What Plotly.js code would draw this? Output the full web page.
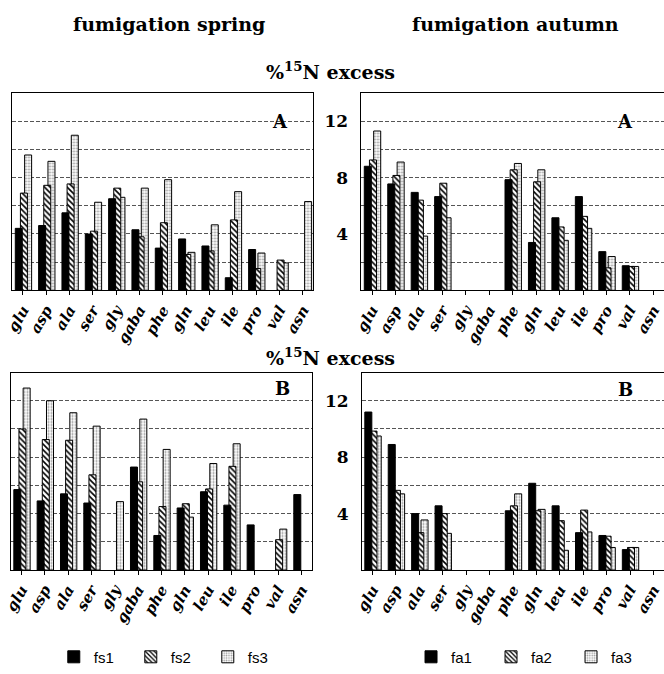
<!DOCTYPE html>
<html>
<head>
<meta charset="utf-8">
<script src="https://cdn.plot.ly/plotly-3.0.1.min.js"></script>
<style>html,body{margin:0;padding:0;background:#fff;}#chart{width:664px;height:674px;}</style>
</head>
<body>
<div id="chart"></div>
<script>
// Categories (amino acids)
const categories = ['glu','asp','ala','ser','gly','gaba','phe','gln','leu','ile','pro','val','asn'];

// fumigation spring, panel A
const fsA1 = [4.4, 4.6, 5.5, 4.0, 6.5, 4.3, 3.0, 3.65, 3.15, 0.9, 2.9, null, null];
const fsA2 = [6.9, 7.45, 7.55, 4.2, 7.25, 3.8, 4.8, 2.55, 2.8, 5.0, 1.55, 2.15, null];
const fsA3 = [9.6, 9.15, 11.0, 6.25, 6.6, 7.25, 7.85, 2.7, 4.65, 7.0, 2.65, 1.95, 6.3];

// fumigation autumn, panel A
const faA1 = [8.8, 7.55, 6.95, 6.65, null, null, 7.85, 3.4, 5.15, 6.65, 2.75, 1.75, null];
const faA2 = [9.25, 8.15, 6.4, 7.6, null, null, 8.55, 7.7, 4.5, 5.25, 1.6, 1.7, null];
const faA3 = [11.3, 9.1, 3.85, 5.15, null, null, 9.0, 8.55, 3.55, 4.4, 2.4, 1.7, null];

// fumigation spring, panel B
const fsB1 = [5.7, 4.9, 5.4, 4.75, null, 7.3, 2.45, 4.4, 5.55, 4.6, 3.2, null, 5.35];
const fsB2 = [10.0, 9.25, 9.2, 6.75, null, 6.25, 4.5, 4.7, 5.75, 7.35, null, 2.15, null];
const fsB3 = [12.9, 12.0, 11.15, 10.2, 4.85, 10.7, 8.55, 3.75, 7.55, 8.95, null, 2.9, null];

// fumigation autumn, panel B
const faB1 = [11.2, 8.9, 4.0, 4.55, null, null, 4.2, 6.15, 4.55, 2.65, 2.45, 1.45, null];
const faB2 = [9.85, 5.65, 2.65, 4.0, null, null, 4.55, 4.2, 3.5, 4.25, 2.4, 1.6, null];
const faB3 = [9.5, 5.4, 3.55, 2.6, null, null, 5.4, 4.3, 1.4, 2.7, 1.6, 1.6, null];

// y ticks: labelled major ticks and unlabelled minor gridlines
const yTickVals = [4, 8, 12];
const yTickText = ['4', '8', '12'];
const yMinorVals = [2, 6, 10];

const styles = {
  1: {marker: {color: '#000', line: {color: '#000', width: 1}}, offset: -0.33, rank: 1},
  2: {marker: {color: '#fff', line: {color: '#000', width: 1},
      pattern: {shape: '\\', fgcolor: '#000', bgcolor: '#fff', size: 4, solidity: 0.4}}, offset: -0.11, rank: 2},
  3: {marker: {color: '#fff', line: {color: '#000', width: 1},
      pattern: {shape: '.', fgcolor: '#999', bgcolor: '#fff', size: 3, solidity: 0.35}}, offset: 0.07, rank: 3}
};

function bar(name, y, idx, xa, ya, legendId, show) {
  const s = styles[idx];
  return {
    type: 'bar', name: name, x: categories, y: y,
    xaxis: xa, yaxis: ya, width: 0.3, offset: s.offset,
    marker: JSON.parse(JSON.stringify(s.marker)),
    showlegend: show, legend: legendId, legendrank: s.rank,
    hoverinfo: 'x+y+name'
  };
}

const traces = [];
// draw back to front: 3, 2, 1
[[fsA3,3],[fsA2,2],[fsA1,1]].forEach(([d,i]) => traces.push(bar('fs'+i, d, i, 'x', 'y', 'legend', false)));
[[faA3,3],[faA2,2],[faA1,1]].forEach(([d,i]) => traces.push(bar('fa'+i, d, i, 'x2', 'y2', 'legend2', false)));
[[fsB3,3],[fsB2,2],[fsB1,1]].forEach(([d,i]) => traces.push(bar('fs'+i, d, i, 'x3', 'y3', 'legend', true)));
[[faB3,3],[faB2,2],[faB1,1]].forEach(([d,i]) => traces.push(bar('fa'+i, d, i, 'x4', 'y4', 'legend2', true)));

const serif = 'DejaVu Serif, serif';

function xax(domain, anchor) {
  return {
    domain: domain, anchor: anchor, type: 'category', range: [-0.45, 12.45],
    showline: true, linecolor: '#000', linewidth: 1, mirror: true,
    ticks: 'outside', ticklen: 4, tickcolor: '#000', tickangle: -60,
    tickfont: {family: serif, size: 15, color: '#000', weight: 'bold', style: 'italic'},
    showgrid: false, fixedrange: true
  };
}
function yax(domain, anchor, labels) {
  return {
    domain: domain, anchor: anchor, range: [0, 14],
    showline: true, linecolor: '#000', linewidth: 1, mirror: true,
    tickmode: 'array', tickvals: yTickVals, ticktext: yTickText,
    showticklabels: labels, ticks: '', ticklabelstandoff: 9,
    tickfont: {family: serif, size: 17, color: '#000', weight: 'bold'},
    showgrid: true, gridcolor: '#555', gridwidth: 1, griddash: '4px,2px',
    minor: {tickmode: 'array', tickvals: yMinorVals, ticks: '', showgrid: true,
      gridcolor: '#555', gridwidth: 1, griddash: '4px,2px'},
    zeroline: false, fixedrange: true
  };
}

const topY = [0.5593, 0.859];
const botY = [0.135, 0.4347];
const leftX1 = [0.0188, 0.4721], rightX1 = [0.5444, 1.0];
const leftX2 = [0.0166, 0.4699], rightX2 = [0.5452, 1.0];

const titleFont = {family: serif, size: 19, color: '#000', weight: 'bold'};
const letterFont = {family: serif, size: 18, color: '#000', weight: 'bold'};
const legendFont = {family: 'Liberation Sans, Arial, sans-serif', size: 15, color: '#000'};

const layout = {
  width: 664, height: 674,
  margin: {l: 0, r: 0, t: 0, b: 0},
  paper_bgcolor: '#fff', plot_bgcolor: '#fff',
  barmode: 'overlay', bargap: 0,
  xaxis: xax(leftX1, 'y'), yaxis: yax(topY, 'x', false),
  xaxis2: xax(rightX1, 'y2'), yaxis2: yax(topY, 'x2', true),
  xaxis3: xax(leftX2, 'y3'), yaxis3: yax(botY, 'x3', false),
  xaxis4: xax(rightX2, 'y4'), yaxis4: yax(botY, 'x4', true),
  legend: {orientation: 'h', x: 0.081, y: 0.028, xanchor: 'left', yanchor: 'top',
    font: legendFont, entrywidth: 32, traceorder: 'normal', bgcolor: 'rgba(0,0,0,0)'},
  legend2: {orientation: 'h', x: 0.619, y: 0.028, xanchor: 'left', yanchor: 'top',
    font: legendFont, entrywidth: 35, traceorder: 'normal', bgcolor: 'rgba(0,0,0,0)'},
  annotations: [
    {text: 'fumigation spring', x: 0.2545, y: 0.964, xref: 'paper', yref: 'paper', showarrow: false, font: titleFont, xanchor: 'center', yanchor: 'middle'},
    {text: 'fumigation autumn', x: 0.777, y: 0.964, xref: 'paper', yref: 'paper', showarrow: false, font: titleFont, xanchor: 'center', yanchor: 'middle'},
    {text: '%<sup>15</sup>N excess', x: 0.497, y: 0.892, xref: 'paper', yref: 'paper', showarrow: false, font: titleFont, xanchor: 'center', yanchor: 'middle'},
    {text: '%<sup>15</sup>N excess', x: 0.497, y: 0.459, xref: 'paper', yref: 'paper', showarrow: false, font: titleFont, xanchor: 'center', yanchor: 'middle'},
    {text: 'A', x: 0.4217, y: 0.8353, xref: 'paper', yref: 'paper', showarrow: false, font: letterFont},
    {text: 'A', x: 0.9556, y: 0.8353, xref: 'paper', yref: 'paper', showarrow: false, font: letterFont},
    {text: 'B', x: 0.426, y: 0.411, xref: 'paper', yref: 'paper', showarrow: false, font: letterFont},
    {text: 'B', x: 0.956, y: 0.4095, xref: 'paper', yref: 'paper', showarrow: false, font: letterFont}
  ]
};

Plotly.newPlot('chart', traces, layout, {displayModeBar: false, staticPlot: true});
</script>
</body>
</html>
